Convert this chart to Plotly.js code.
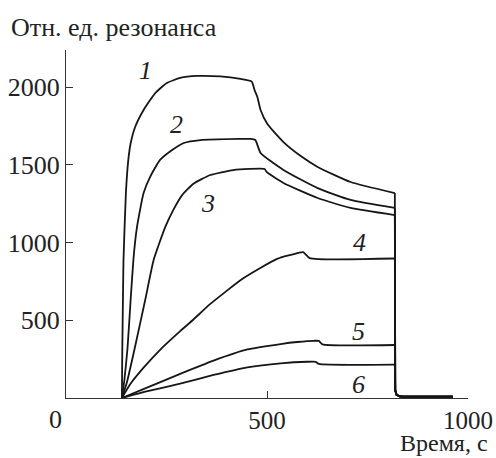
<!DOCTYPE html>
<html>
<head>
<meta charset="utf-8">
<script src="https://cdn.plot.ly/plotly-3.0.1.min.js"></script>
<style>html,body{margin:0;padding:0;background:#fff;}#chart{width:496px;height:458px;}
#chart svg text{font-family:'Liberation Serif','Times New Roman',serif !important;}
</style>
</head>
<body>
<div id="chart"></div>
<script>
// Time (s) and response (relative resonance units) for the six curves
var t1 = [139, 140, 142, 143, 149, 155, 161, 172, 193, 222, 251, 284, 326, 384, 434, 462, 469, 476, 484, 501, 541, 584, 626, 708, 818, 819, 822, 830, 840, 962];
var v1 = [0, 300, 700, 887, 1318, 1531, 1640, 1743, 1852, 1961, 2026, 2058, 2071, 2068, 2052, 2035, 1981, 1936, 1852, 1762, 1646, 1556, 1486, 1389, 1318, 50, 22, 10, 8, 8];

var t2 = [139, 145, 153, 161, 168, 176, 193, 209, 234, 264, 293, 334, 429, 459, 471, 484, 541, 626, 708, 818, 819, 822, 830, 840, 962];
var v2 = [0, 110, 320, 640, 900, 1090, 1318, 1421, 1531, 1595, 1640, 1659, 1666, 1666, 1659, 1576, 1467, 1350, 1274, 1222, 50, 22, 10, 8, 8];

var t3 = [139, 151, 170, 197, 218, 247, 268, 289, 317, 359, 416, 494, 499, 541, 626, 708, 818, 819, 822, 830, 840, 962];
var v3 = [0, 96, 309, 630, 887, 1100, 1215, 1305, 1378, 1434, 1466, 1473, 1454, 1383, 1286, 1222, 1176, 50, 22, 10, 8, 8];

var t4 = [139, 160, 193, 234, 284, 317, 359, 441, 525, 579, 590, 606, 818, 819, 822, 830, 840, 962];
var v4 = [0, 90, 195, 310, 430, 505, 605, 770, 895, 934, 938, 900, 897, 50, 22, 10, 8, 8];

var t5 = [139, 200, 284, 367, 451, 534, 575, 617, 629, 638, 818, 819, 822, 830, 840, 962];
var v5 = [0, 65, 155, 240, 312, 347, 360, 368, 367, 345, 341, 50, 22, 10, 8, 8];

var t6 = [139, 200, 284, 367, 451, 534, 600, 621, 629, 818, 819, 822, 830, 840, 962];
var v6 = [0, 42, 92, 148, 197, 223, 233, 233, 219, 214, 50, 22, 10, 8, 8];

var curveNames = ['1', '2', '3', '4', '5', '6'];
var labelT = [197, 276, 354, 729, 728, 728];
var labelV = [2103, 1762, 1254, 1003, 426, 84];

var xTickVals = [500, 1000];
var xTickText = ['500', '1000'];
var yTickVals = [500, 1000, 1500, 2000];
var yTickText = ['500', '1000', '1500', '2000'];

var yTitle = 'Отн. ед. резонанса';
var xTitle = 'Время, с';

var stopTime = 818; // end of the measurement phase

var T = [t1, t2, t3, t4, t5, t6];
var V = [v1, v2, v3, v4, v5, v6];

var serif = 'Liberation Serif';
var ink = '#161616';

var traces = [];
T.forEach(function (t, i) {
  var bx = [], by = [], tx = [], ty = [];
  t.forEach(function (tt, j) {
    if (tt <= stopTime) { bx.push(tt); by.push(V[i][j]); }
    if (tt >= stopTime) { tx.push(tt); ty.push(V[i][j]); }
  });
  traces.push({
    x: bx, y: by, type: 'scatter', mode: 'lines', name: curveNames[i],
    line: {color: ink, width: 1.8, shape: 'spline', smoothing: 0.5},
    hoverinfo: 'skip'
  });
  traces.push({
    x: tx, y: ty, type: 'scatter', mode: 'lines', name: curveNames[i] + ' tail',
    line: {color: ink, width: 1.8, shape: 'linear'},
    hoverinfo: 'skip'
  });
});

var annotations = curveNames.map(function (n, i) {
  return {
    x: labelT[i], y: labelV[i], xref: 'x', yref: 'y', text: n, showarrow: false,
    font: {family: serif, size: 26, color: '#222', style: 'italic'}
  };
});

annotations.push({
  xref: 'paper', yref: 'paper', x: -0.141, y: 1.066, xanchor: 'left', yanchor: 'middle',
  text: yTitle, showarrow: false, font: {family: serif, size: 26, color: '#222'}
});
annotations.push({
  xref: 'paper', yref: 'paper', x: 1.052, y: -0.129, xanchor: 'right', yanchor: 'middle',
  borderpad: 0,
  text: xTitle, showarrow: false, font: {family: serif, size: 24, color: '#222'}
});
annotations.push({
  xref: 'paper', yref: 'paper', x: -0.027, y: -0.063, xanchor: 'center', yanchor: 'middle',
  text: '0', showarrow: false, font: {family: serif, size: 26, color: '#222'}
});

var layout = {
  width: 496, height: 458,
  margin: {l: 66, r: 28, t: 50, b: 60},
  paper_bgcolor: '#fff', plot_bgcolor: '#fff',
  showlegend: false,
  font: {family: serif, size: 26, color: '#222'},
  xaxis: {
    range: [0, 1000], showgrid: false, zeroline: false,
    showline: true, linecolor: '#333', linewidth: 1,
    ticks: 'inside', ticklen: 7, tickcolor: '#333', tickwidth: 1,
    tickvals: xTickVals, ticktext: xTickText,
    tickfont: {family: serif, size: 25, color: '#222'}
  },
  yaxis: {
    range: [0, 2238], showgrid: false, zeroline: false,
    showline: true, linecolor: '#333', linewidth: 1,
    ticks: 'inside', ticklen: 7, tickcolor: '#333', tickwidth: 1,
    tickvals: yTickVals, ticktext: yTickText,
    tickfont: {family: serif, size: 26, color: '#222'}
  },
  annotations: annotations
};

Plotly.newPlot('chart', traces, layout, {staticPlot: true, displayModeBar: false});
</script>
</body>
</html>
